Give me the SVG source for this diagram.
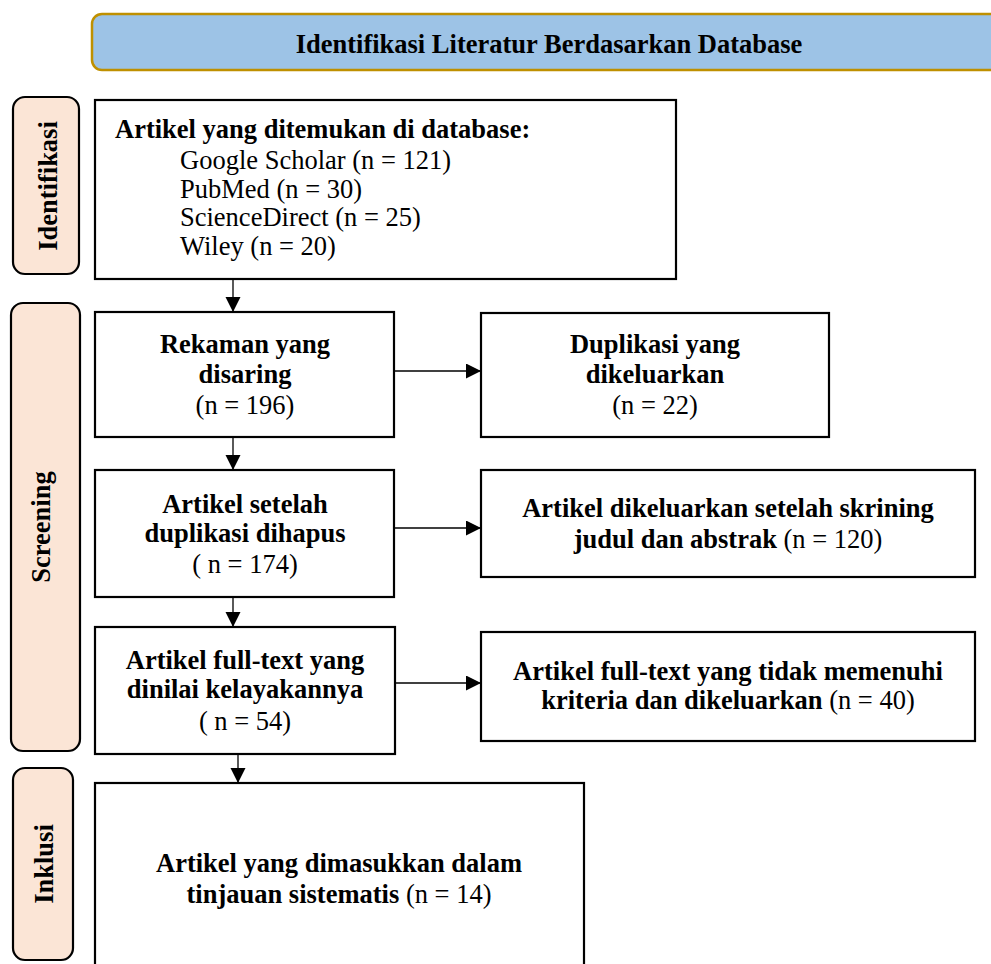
<svg xmlns="http://www.w3.org/2000/svg" width="991" height="964" viewBox="0 0 991 964">
  <style>
    text { font-family: "Liberation Serif", "Times New Roman", serif; font-size: 26.5px; fill: #000; }
    .b { font-weight: bold; }
    .n { font-weight: normal; }
    .box { fill: #fff; stroke: #000; stroke-width: 2.2; }
    .pill { fill: #FBE5D6; stroke: #000; stroke-width: 2.2; }
    .con { stroke: #000; stroke-width: 1.3; fill: none; marker-end: url(#ah); }
  </style>
  <defs>
    <marker id="ah" markerUnits="userSpaceOnUse" markerWidth="16" markerHeight="16" refX="15" refY="7.5" orient="auto">
      <path d="M0,0 L15,7.5 L0,15 Z" fill="#000"/>
    </marker>
  </defs>
  <rect width="991" height="964" fill="#fff"/>

  <g id="header">
    <rect x="92" y="14" width="920" height="56" rx="10" ry="10" fill="#9DC3E6" stroke="#BF9000" stroke-width="2.5"/>
    <text class="b" x="549" y="53" text-anchor="middle">Identifikasi Literatur Berdasarkan Database</text>
  </g>

  <g id="stage-identifikasi">
    <rect class="pill" x="13" y="97" width="66" height="177" rx="12" ry="12"/>
    <text class="b" x="57" y="186" text-anchor="middle" transform="rotate(-90 57 186)">Identifikasi</text>
  </g>
  <g id="stage-screening">
    <rect class="pill" x="11" y="303" width="69" height="448" rx="12" ry="12"/>
    <text class="b" x="50" y="527" text-anchor="middle" transform="rotate(-90 50 527)">Screening</text>
  </g>
  <g id="stage-inklusi">
    <rect class="pill" x="13" y="768" width="60" height="192" rx="12" ry="12"/>
    <text class="b" x="53" y="864" text-anchor="middle" transform="rotate(-90 53 864)">Inklusi</text>
  </g>

  <g id="node-database">
    <rect class="box" x="95" y="100" width="581" height="179"/>
    <text class="b" x="115" y="138">Artikel yang ditemukan di database:</text>
    <text x="180" y="169">Google Scholar (n = 121)</text>
    <text x="180" y="198">PubMed (n = 30)</text>
    <text x="180" y="226">ScienceDirect (n = 25)</text>
    <text x="180" y="255">Wiley (n = 20)</text>
  </g>

  <g id="node-disaring">
    <rect class="box" x="95" y="312" width="299" height="125"/>
    <text class="b" x="245" y="353" text-anchor="middle">Rekaman yang</text>
    <text class="b" x="245" y="383" text-anchor="middle">disaring</text>
    <text x="245" y="414" text-anchor="middle">(n = 196)</text>
  </g>

  <g id="node-duplikasi">
    <rect class="box" x="481" y="313" width="348" height="124"/>
    <text class="b" x="655" y="353" text-anchor="middle">Duplikasi yang</text>
    <text class="b" x="655" y="383" text-anchor="middle">dikeluarkan</text>
    <text x="655" y="414" text-anchor="middle">(n = 22)</text>
  </g>

  <g id="node-setelah-duplikasi">
    <rect class="box" x="95" y="470" width="299" height="127"/>
    <text class="b" x="245" y="513" text-anchor="middle">Artikel setelah</text>
    <text class="b" x="245" y="542" text-anchor="middle">duplikasi dihapus</text>
    <text x="245" y="573" text-anchor="middle">( n = 174)</text>
  </g>

  <g id="node-skrining">
    <rect class="box" x="481" y="470" width="494" height="107"/>
    <text class="b" x="728" y="517" text-anchor="middle">Artikel dikeluarkan setelah skrining</text>
    <text class="b" x="728" y="548" text-anchor="middle">judul dan abstrak <tspan class="n">(n = 120)</tspan></text>
  </g>

  <g id="node-fulltext">
    <rect class="box" x="95" y="627" width="300" height="127"/>
    <text class="b" x="245" y="669" text-anchor="middle">Artikel full-text yang</text>
    <text class="b" x="245" y="698" text-anchor="middle">dinilai kelayakannya</text>
    <text x="245" y="730" text-anchor="middle">( n = 54)</text>
  </g>

  <g id="node-tidak-memenuhi">
    <rect class="box" x="481" y="632" width="494" height="109"/>
    <text class="b" x="728" y="680" text-anchor="middle">Artikel full-text yang tidak memenuhi</text>
    <text class="b" x="728" y="709" text-anchor="middle">kriteria dan dikeluarkan <tspan class="n">(n = 40)</tspan></text>
  </g>

  <g id="node-inklusi">
    <rect class="box" x="95" y="783" width="489" height="200"/>
    <text class="b" x="339" y="872" text-anchor="middle">Artikel yang dimasukkan dalam</text>
    <text class="b" x="339" y="903" text-anchor="middle">tinjauan sistematis <tspan class="n">(n = 14)</tspan></text>
  </g>

  <g id="connectors">
    <line class="con" x1="233" y1="280" x2="233" y2="312"/>
    <line class="con" x1="233" y1="438" x2="233" y2="470"/>
    <line class="con" x1="233" y1="598" x2="233" y2="627"/>
    <line class="con" x1="238" y1="755" x2="238" y2="783"/>
    <line class="con" x1="395" y1="371" x2="481" y2="371"/>
    <line class="con" x1="395" y1="528" x2="481" y2="528"/>
    <line class="con" x1="396" y1="683" x2="481" y2="683"/>
  </g>
</svg>
